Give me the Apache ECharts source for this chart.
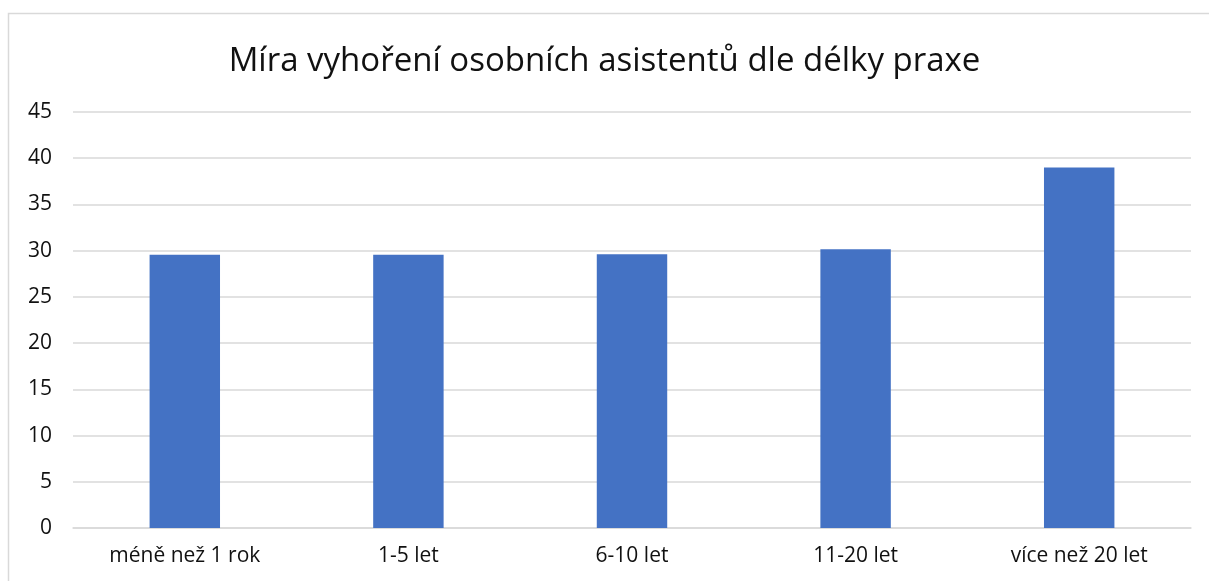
<!DOCTYPE html>
<html>
<head>
<meta charset="utf-8">
<script src="https://cdn.jsdelivr.net/npm/echarts@6/dist/echarts.min.js"></script>
<style>
  html, body { margin: 0; padding: 0; background: #fff; }
  #chart { width: 1209px; height: 581px; }
</style>
</head>
<body>
<div id="chart"></div>
<script>
// kategorie a hodnoty
var categories = ['méně než 1 rok', '1-5 let', '6-10 let', '11-20 let', 'více než 20 let'];
var values = [29.55, 29.55, 29.6, 30.15, 39.0];
var yTicks = { min: 0, max: 45, interval: 5 };

var myChart = echarts.init(document.getElementById('chart'));

var option = {
    animation: false,
    title: {
        text: 'Míra vyhoření osobních asistentů dle délky praxe',
        left: 'center',
        top: 40,
        textStyle: {
            fontFamily: 'Open Sans',
            fontSize: 33,
            fontWeight: 'normal',
            color: '#111'
        }
    },
    graphic: [{
        type: 'rect',
        shape: { x: 8.5, y: 13.5, width: 1220, height: 600 },
        style: { fill: 'none', stroke: '#d9d9d9', lineWidth: 1.5 },
        silent: true
    }],
    grid: {
        left: 73,
        right: 18,
        top: 112,
        bottom: 53
    },
    xAxis: {
        type: 'category',
        data: categories,
        axisTick: { show: false },
        axisLine: { lineStyle: { color: '#d9d9d9', width: 1.5 } },
        axisLabel: {
            fontFamily: 'Open Sans',
            fontSize: 21,
            color: '#111',
            margin: 18
        }
    },
    yAxis: {
        type: 'value',
        min: yTicks.min,
        max: yTicks.max,
        interval: yTicks.interval,
        axisLine: { show: false },
        axisTick: { show: false },
        splitLine: { lineStyle: { color: '#d9d9d9', width: 1.5 } },
        axisLabel: {
            fontFamily: 'Open Sans',
            fontSize: 21,
            color: '#111',
            margin: 21
        }
    },
    series: [{
        type: 'bar',
        data: values,
        barWidth: '31.5%',
        itemStyle: { color: '#4472c4' }
    }]
};

myChart.setOption(option);
</script>
</body>
</html>
